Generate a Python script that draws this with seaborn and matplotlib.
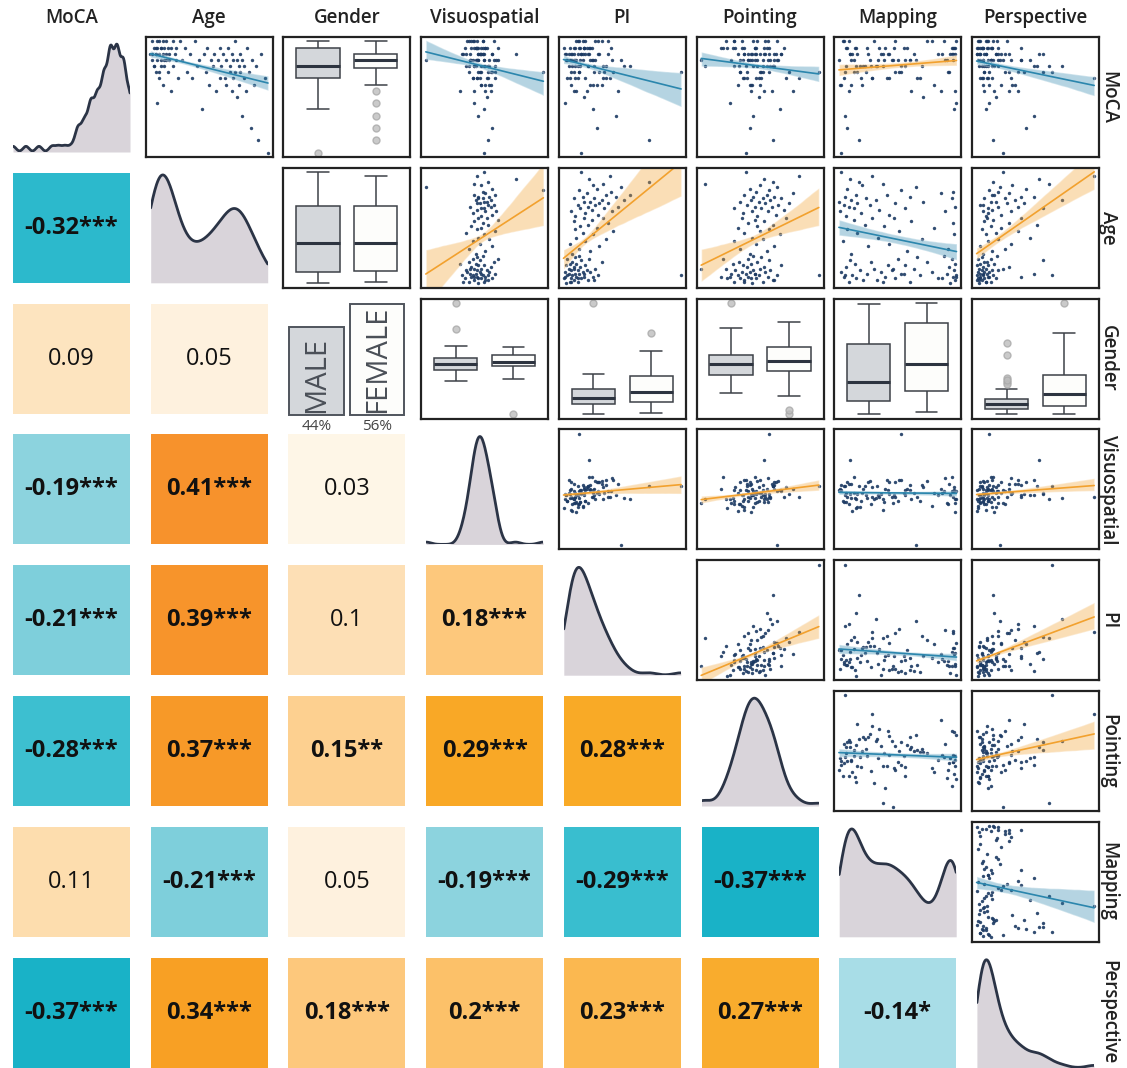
import pandas as pd
import matplotlib.pyplot as plt
import seaborn as sns
from matplotlib.colors import LinearSegmentedColormap
from matplotlib.patches import Rectangle

# Variables in matrix order
variables = ["MoCA", "Age", "Gender", "Visuospatial", "PI", "Pointing", "Mapping", "Perspective"]
gender_labels = ["MALE", "FEMALE"]

# Subject data (young block, middle block, old block)
moca = [28, 30, 27, 29, 26, 29, 28, 25, 30, 27, 29, 24, 28, 30, 26, 29, 27, 28, 23, 30,
        27, 29, 26, 28, 30, 25, 29, 27, 28, 22, 29, 30, 26, 28, 27, 29, 24, 30, 28, 26,
        20, 29, 27, 28, 25,
        27, 29, 25, 28, 24, 30, 26, 27, 19, 28, 25, 29, 23, 27, 26, 28, 22, 27, 29, 24,
        26, 28, 24, 27, 23, 29, 25, 26, 22, 28, 27, 24, 30, 25, 21, 27, 26, 23, 28, 25,
        18, 27, 24, 26, 22, 29, 25, 16, 27, 23, 26, 14, 28, 24, 12]
age = [18, 19, 19, 20, 20, 21, 21, 21, 22, 22, 22, 23, 23, 23, 24, 24, 24, 25, 25, 25,
       26, 26, 26, 27, 27, 28, 28, 29, 29, 30, 30, 31, 31, 32, 33, 33, 34, 35, 19, 20,
       22, 24, 27, 21, 23,
       36, 38, 39, 41, 42, 44, 45, 46, 48, 49, 50, 51, 52, 53, 54, 55, 56, 57, 58, 58,
       59, 60, 61, 62, 62, 63, 64, 64, 65, 65, 66, 66, 67, 67, 68, 68, 69, 69, 70, 70,
       71, 71, 72, 72, 73, 74, 75, 76, 77, 78, 79, 80, 82, 84, 86]
gender = list("MFFMFMFFMF" "FMMFFMFMFM" "FFMFMFFMFM" "MFMFFMMFFM" "FMFFMFMFFM"
              "MFFMFFMFMF" "FMMFMFFMFM" "FFMFMFMFFM" "MFMFMFFMFM" "FMFFMFFMFM")
visuospatial = [48, 41, 52, 45, 55, 38, 50, 58, 43, 47, 53, 44, 36, 51, 60, 46, 42, 49, 56, 40,
                47, 54, 39, 50, 45, 57, 43, 48, 52, 35, 46, 59, 41, 49, 44, 62, 47, 51, 37, 53,
                45, 50, 42, 48, 55,
                46, 53, 41, 58, 49, 44, 56, 48, 52, 39, 60, 47, 50, 43, 55, 51, 45, 62, 48, 54,
                50, 58, 44, 61, 53, 47, 50, 52, 57, 42, 59, 55, 47, 49, 54, 52, 46, 57, 51, 48,
                48, 56, 60, 45, 53, 51, 95, 58, 10, 50, 45, 55, 75, 47, 52]
pi = [5, 14, 8, 11, 22, 3, 17, 9, 13, 26, 19, 6, 10, 30, 7, 15, 12, 4, 24, 18,
      9, 21, 14, 7, 28, 11, 16, 5, 20, 13, 8, 33, 10, 17, 6, 23, 12, 15, 9, 27,
      4, 19, 11, 14, 95,
      10, 24, 15, 31, 8, 20, 36, 13, 26, 18, 42, 12, 29, 16, 22, 38, 11, 25, 19, 34,
      12, 30, 20, 41, 9, 25, 35, 16, 46, 22, 28, 14, 38, 31, 19, 24, 50, 33, 11, 27,
      44, 18, 36, 55, 21, 40, 15, 29, 48, 26, 34, 70, 23, 39, 17]
pointing = [44, 30, 52, 38, 60, 25, 47, 35, 56, 41, 20, 49, 33, 63, 39, 46, 28, 54, 42, 36,
            58, 31, 45, 50, 24, 40, 53, 37, 66, 43, 29, 48, 34, 57, 41, 22, 51, 45, 38, 61,
            27, 46, 5, 43, 95,
            42, 55, 35, 61, 47, 30, 52, 44, 65, 38, 50, 57, 33, 48, 60, 41, 53, 46, 36, 70,
            48, 62, 37, 56, 44, 68, 51, 30, 59, 46, 64, 40, 54, 72, 49, 35, 58, 43, 66, 52,
            45, 61, 38, 55, 75, 47, 57, 42, 63, 50, 8, 60, 53, 80, 39]
mapping = [0.95, 0.12, 0.62, 0.99, 0.35, 0.18, 0.88, 0.50, 0.08, 0.97, 0.42, 0.70, 0.15, 1.00, 0.55,
           0.27, 0.92, 0.38, 0.06, 0.80, 0.47, 0.98, 0.21, 0.65, 0.33, 0.94, 0.10, 0.58, 0.44, 0.99,
           0.17, 0.76, 0.30, 0.13, 0.52, 0.96, 0.68, 0.90, 0.40, 0.24, 1.00, 0.57, 0.48, 0.85, 0.09,
           0.14, 0.60, 0.93, 0.28, 0.45, 0.07, 0.72, 0.36, 0.98, 0.19, 0.53, 0.11, 0.82, 0.41, 0.25,
           0.97, 0.63, 0.16, 0.49, 0.31,
           0.10, 0.45, 0.22, 0.91, 0.05, 0.37, 0.16, 0.58, 0.12, 0.99, 0.29, 0.08, 0.50, 0.19, 0.73,
           0.04, 0.34, 0.14, 0.96, 0.26, 0.09, 0.62, 0.43, 0.18, 0.87, 0.97, 0.55, 0.11, 0.67, 0.23,
           0.40, 0.20, 0.13, 0.31, 0.06]
perspective = [5, 10, 14, 3, 7, 4, 18, 9, 6, 38, 12, 8, 3, 16, 48, 11, 6, 9, 13, 4,
               20, 7, 15, 10, 5, 28, 8, 12, 3, 17, 6, 11, 9, 55, 4, 14, 7, 19, 10, 5,
               13, 8, 24, 6, 62,
               8, 15, 25, 6, 30, 12, 20, 45, 10, 18, 35, 7, 22, 14, 50, 28, 9, 16, 38, 11,
               10, 22, 12, 30, 8, 15, 55, 12, 35, 20, 8, 6, 27, 40, 18, 14, 70, 33, 25, 9,
               48, 38, 15, 17, 28, 20, 13, 42, 21, 31, 60, 16, 52, 95, 24]

# Lower triangle correlations (row variable vs column variable)
corr_values = [
    [],
    [-0.32],
    [0.09, 0.05],
    [-0.19, 0.41, 0.03],
    [-0.21, 0.39, 0.1, 0.18],
    [-0.28, 0.37, 0.15, 0.29, 0.28],
    [0.11, -0.21, 0.05, -0.19, -0.29, -0.37],
    [-0.37, 0.34, 0.18, 0.2, 0.23, 0.27, -0.14],
]
corr_stars = [
    [],
    ["***"],
    ["", ""],
    ["***", "***", ""],
    ["***", "***", "", "***"],
    ["***", "***", "**", "***", "***"],
    ["", "***", "", "***", "***", "***"],
    ["***", "***", "***", "***", "***", "***", "*"],
]

df = pd.DataFrame({
    "MoCA": moca, "Age": age, "Gender": gender, "Visuospatial": visuospatial,
    "PI": pi, "Pointing": pointing, "Mapping": mapping, "Perspective": perspective,
})

sns.set_style("white")
plt.rcParams["font.family"] = ["Open Sans", "DejaVu Sans"]

# Colours
navy = "#1c3a63"
kde_fill = "#d9d4da"
kde_line = "#2b3446"
pos_line = "#f2a12e"
neg_line = "#2b86ad"
tile_cmap = LinearSegmentedColormap.from_list("corr", [
    (0.00, "#0fa9c2"), (0.04, "#1ab3c8"), (0.15, "#3dbfd0"), (0.2375, "#80cfdb"),
    (0.325, "#a8dde7"), (0.50, "#fefbf4"), (0.5625, "#fef2df"), (0.625, "#fde0b6"),
    (0.725, "#fdc87c"), (0.7875, "#fbb851"), (0.85, "#f9aa26"), (0.925, "#f8a024"),
    (1.00, "#f7922c"),
])

W, H = 1127, 1068
fig = plt.figure(figsize=(W / 100, H / 100), dpi=100)


def cell(i, j, inset=0):
    left = 8 + 137.7 * j + inset
    top = 37 + 130.8 * i + inset
    w, h = 127 - 2 * inset, 120 - 2 * inset
    return fig.add_axes([left / W, 1 - (top + h) / H, w / W, h / H])


lims = {}
for v in variables:
    if v == "Gender":
        continue
    lo, hi = df[v].min(), df[v].max()
    pad = (hi - lo) * 0.04
    lims[v] = (lo - pad, hi + pad)

box_palette = {"M": "#d3d7dc", "F": "#fdfdfb"}

for i, vy in enumerate(variables):
    for j, vx in enumerate(variables):
        if i > j:
            # correlation tile
            ax = cell(i, j, inset=5)
            ax.set_axis_off()
            r = corr_values[i][j]
            stars = corr_stars[i][j]
            ax.add_patch(Rectangle((0, 0), 1, 1, transform=ax.transAxes,
                                   color=tile_cmap((r + 0.4) / 0.8)))
            ax.text(0.5, 0.5, f"{r:g}{stars}", ha="center", va="center",
                    fontsize=17, color="#111111",
                    fontweight="bold" if stars else "normal",
                    transform=ax.transAxes)
        elif i == j and vx == "Gender":
            ax = cell(i, j)
            ax.set_axis_off()
            counts = df["Gender"].value_counts()
            pct = [counts["M"] / len(df) * 100, counts["F"] / len(df) * 100]
            sns.barplot(x=["M", "F"], y=pct, hue=["M", "F"], palette=box_palette,
                        edgecolor="#50555d", linewidth=1.4, width=0.9, legend=False, ax=ax)
            ax.set_xlim(-0.55, 1.55)
            ax.set_ylim(-2.0, 58.5)
            for k, lab in enumerate(gender_labels):
                ax.text(k, 0.6, lab, rotation=90, ha="center", va="bottom",
                        fontsize=21, color="#4a4f57")
                ax.annotate(f"{pct[k]:.0f}%", (k, 0), xytext=(0, -3),
                            textcoords="offset points", ha="center", va="top",
                            fontsize=11, color="#444444", annotation_clip=False)
        elif i == j:
            ax = cell(i, j, inset=5)
            ax.set_axis_off()
            bw = {"MoCA": 0.35, "Age": 0.8, "Mapping": 0.55, "Perspective": 0.8}.get(vx, 1.0)
            sns.kdeplot(x=df[vx], ax=ax, fill=True, color=kde_fill, alpha=1,
                        linewidth=0, cut=0, bw_adjust=bw)
            sns.kdeplot(x=df[vx], ax=ax, color=kde_line, linewidth=2,
                        cut=0, bw_adjust=bw)
            ax.set_xlim(df[vx].min(), df[vx].max())
            top = max(l.get_ydata().max() for l in ax.lines)
            ax.set_ylim(0, top * 1.02)
        else:
            ax = cell(i, j)
            if vx == "Gender" or vy == "Gender":
                var = vy if vx == "Gender" else vx
                sns.boxplot(data=df, x="Gender", y=var, order=["M", "F"], hue="Gender",
                            hue_order=["M", "F"], palette=box_palette, legend=False,
                            width=0.75, linecolor="#3d4148", linewidth=1.1,
                            flierprops=dict(marker="o", markersize=5,
                                            markerfacecolor="#bdbdbd",
                                            markeredgecolor="#a9a9a9", alpha=0.8),
                            medianprops=dict(color="#2d3440", linewidth=2.2), ax=ax)
                ax.set_xlim(-0.6, 1.6)
                ax.set_ylim(*lims[var])
            else:
                r = corr_values[j][i]
                sns.regplot(data=df, x=vx, y=vy, ax=ax, ci=80,
                            color=pos_line if r > 0 else neg_line,
                            scatter_kws=dict(s=6, color=navy, linewidths=0, alpha=0.9),
                            line_kws=dict(lw=1.2))
                for c in ax.collections[1:]:
                    c.set_alpha(0.35)
                ax.set_xlim(*lims[vx])
                ax.set_ylim(*lims[vy])
            ax.set_xticks([])
            ax.set_yticks([])
            ax.set_xlabel("")
            ax.set_ylabel("")
            for s in ax.spines.values():
                s.set_visible(True)
                s.set_color("#222222")
                s.set_linewidth(1.6)

# column titles and row labels
for k, v in enumerate(variables):
    fig.text((8 + 137.7 * k + 63.5) / W, 1 - 18 / H, v, ha="center", va="center",
             fontsize=13.5, fontweight="semibold", color="#222222")
    fig.text(1108 / W, 1 - (37 + 130.8 * k + 60) / H, v, ha="center", va="center",
             rotation=-90, fontsize=13.5, fontweight="semibold", color="#222222")

plt.savefig("out.png", dpi=100)
